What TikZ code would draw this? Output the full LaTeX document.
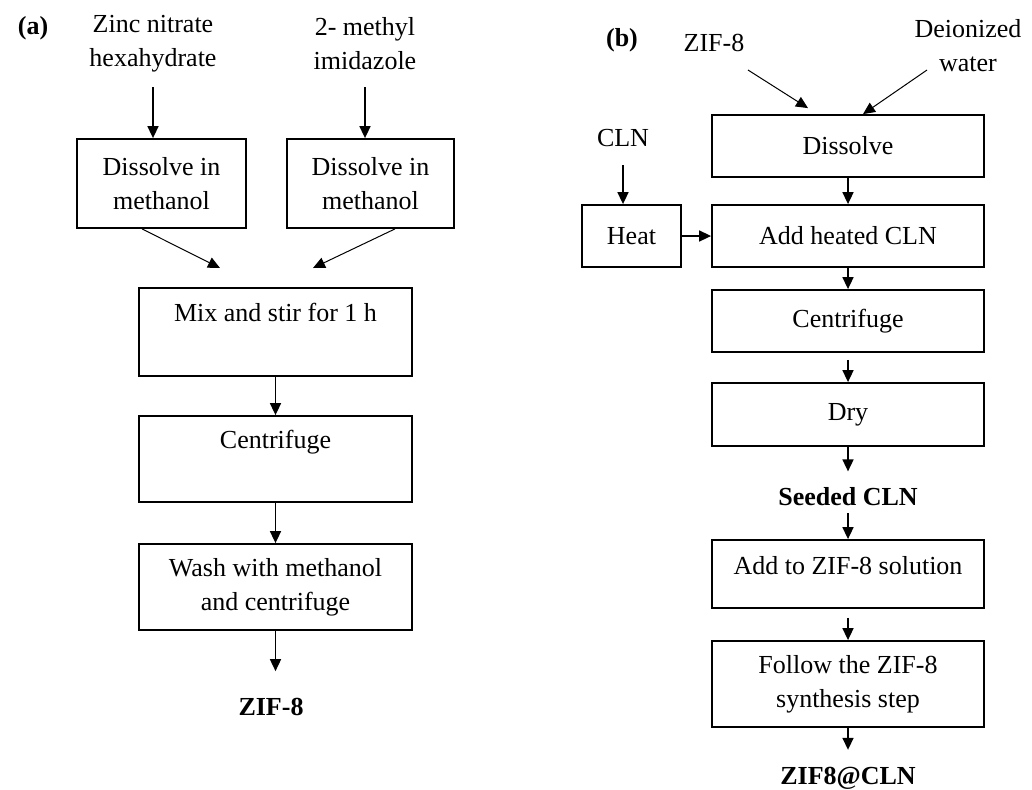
\documentclass[tikz,border=0pt]{standalone}
\usepackage{fontspec}
\setmainfont{Liberation Serif}
\usetikzlibrary{arrows.meta,calc}
\begin{document}
\begin{tikzpicture}[x=0.5pt,y=-0.5pt,
    font=\fontsize{13}{17}\selectfont,
    box/.style={draw,line width=0.9pt,align=center,inner sep=0pt},
    txt/.style={align=center},
    bold/.style={font=\fontsize{13}{17}\selectfont\bfseries},
    arr/.style={-{Triangle[length=6pt,width=5.5pt]},line width=0.8pt}]
  \useasboundingbox (0,0) rectangle (1032,789);

  % (a) ZIF-8
  \node [bold] (la) at (33,28) {(a)};
  \node [txt] (zinc) at (153,44) {Zinc nitrate\\hexahydrate};
  \node [txt] (mim) at (365,44) {2- methyl\\imidazole};

  \node [box,minimum width=84.5pt,minimum height=44.5pt] (dz) at (161.5,183.5) {Dissolve in\\methanol};
  \node [box,minimum width=83.5pt,minimum height=44.5pt] (dm) at (370.5,183.5) {Dissolve in\\methanol};
  \node [box,minimum width=136.5pt,minimum height=44pt] (mix) at (275.5,332) {Mix and stir for 1 h\\[3pt]\mbox{}};
  \node [box,minimum width=136.5pt,minimum height=43pt] (centa) at (275.5,459) {Centrifuge\\[3pt]\mbox{}};
  \node [box,minimum width=136.5pt,minimum height=43pt] (wash) at (275.5,587) {Wash with methanol\\and centrifuge};
  \node [bold] (zifa) at (271,707) {ZIF-8};

  \coordinate (mixl) at (220,268);
  \coordinate (mixr) at (313,268);

  \draw [arr] (zinc) ++(0,43) -- (zinc |- dz.north);
  \draw [arr] (mim) ++(0,43) -- (mim |- dm.north);
  \draw [arr,line width=0.5pt] ([xshift=-9.75pt]dz.south) -- (mixl);
  \draw [arr,line width=0.5pt] ([xshift=12.25pt]dm.south) -- (mixr);
  \draw [arr] (mix) -- (centa);
  \draw [arr] (centa) -- (wash);
  \draw [arr,shorten >=10pt] (wash.south) -- (wash.south |- zifa.north);

  % (b) ZIF8@CLN
  \node [bold] (lb) at (622,40) {(b)};
  \node [txt] (zifb) at (714,43) {ZIF-8};
  \node [txt] (water) at (968,46) {Deionized\\water};
  \node [txt] (cln) at (623,138) {CLN};

  \node [box,minimum width=136pt,minimum height=31pt] (diss) at (848,146) {Dissolve};
  \node [box,minimum width=49.5pt,minimum height=31pt] (heat) at (631.5,236) {Heat};
  \node [box,minimum width=136pt,minimum height=31pt] (addh) at (848,236) {Add heated CLN};
  \node [box,minimum width=136pt,minimum height=31pt] (centb) at (848,321) {Centrifuge};
  \node [box,minimum width=136pt,minimum height=31.5pt] (dry) at (848,414.5) {Dry};
  \node [bold] (seed) at (848,497) {Seeded CLN};
  \node [box,minimum width=136pt,minimum height=34pt] (addz) at (848,574) {Add to ZIF-8 solution\\[-8pt]\mbox{}};
  \node [box,minimum width=136pt,minimum height=43pt] (follow) at (848,684) {Follow the ZIF-8\\synthesis step};
  \node [bold] (final) at (848,778) {ZIF8@CLN};

  \draw [arr,line width=0.5pt] ($(zifb)+(34,27)$) -- ($(diss.north)+(-40,-6)$);
  \draw [arr,line width=0.5pt] ($(water)+(-41,24)$) -- ($(diss.north)+(15,0)$);
  \draw [arr] (cln) ++(0,27) -- (cln |- heat.north);
  \draw [arr] (heat) -- (addh);
  \draw [arr] (diss) -- (addh);
  \draw [arr] (addh) -- (centb);
  \draw [arr,shorten <=3.5pt] (centb) -- (dry);
  \draw [arr,shorten >=4.7pt] (dry) -- (seed);
  \draw [arr] (seed) -- (addz);
  \draw [arr,shorten <=4.5pt] (addz) -- (follow);
  \draw [arr,shorten >=5pt] (follow) -- (final);
\end{tikzpicture}
\end{document}
